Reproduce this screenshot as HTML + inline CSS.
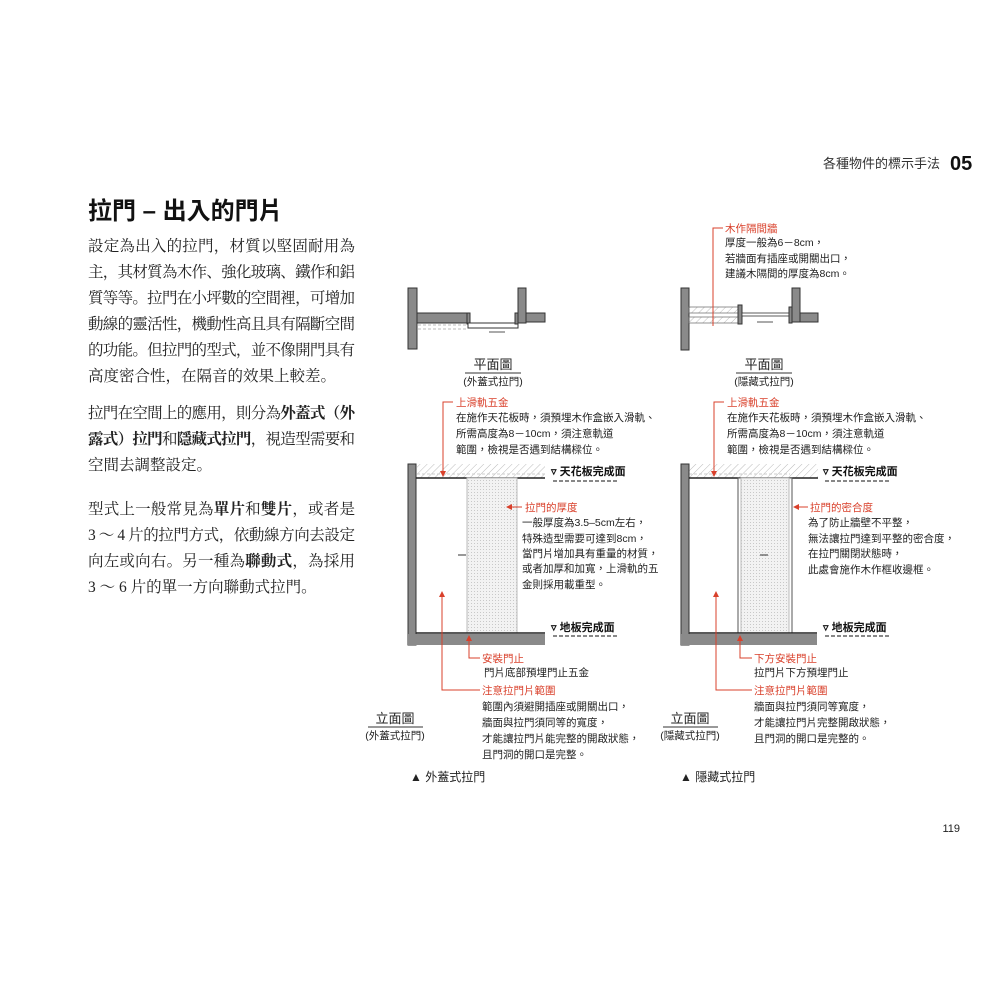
<!DOCTYPE html>
<html><head><meta charset="utf-8">
<style>
html,body{margin:0;padding:0;background:#fff;}
svg{display:block;}
text{font-family:"Liberation Sans","Noto Sans CJK TC",sans-serif;}
.serif text{font-family:"Liberation Serif","Noto Serif CJK SC",serif;font-size:15.5px;fill:#222;}
.s{font-size:10.5px;fill:#222;}
.r{font-size:10.5px;fill:#d9402b;}
.rl{stroke:#d9402b;stroke-width:1;fill:none;}
.w{fill:#8a8a8a;stroke:#333;stroke-width:1;}
</style></head><body>
<svg width="1000" height="1000" viewBox="0 0 1000 1000" xmlns="http://www.w3.org/2000/svg">
<defs>
<pattern id="hatch" width="5" height="5" patternUnits="userSpaceOnUse" patternTransform="rotate(45)">
<line x1="0" y1="0" x2="0" y2="5" stroke="#bbb" stroke-width="1"/></pattern>
<pattern id="dots" width="3" height="3" patternUnits="userSpaceOnUse">
<rect width="3" height="3" fill="#f2f2f2"/><rect width="1" height="1" fill="#c8c8c8"/></pattern>
<marker id="ar" markerWidth="6" markerHeight="6" refX="5" refY="3" orient="auto"><path d="M0,0 L6,3 L0,6z" fill="#d9402b"/></marker>
</defs>

<text x="940" y="168" text-anchor="end" font-size="13" fill="#333">各種物件的標示手法</text>
<text x="950" y="170" font-size="20" font-weight="bold" fill="#111">05</text>

<text x="88" y="219" font-size="24" font-weight="bold" fill="#111">拉門 – 出入的門片</text>

<g class="serif">
<text x="88" y="251" textLength="267" lengthAdjust="spacing">設定為出入的拉門，材質以堅固耐用為</text>
<text x="88" y="277" textLength="267" lengthAdjust="spacing">主，其材質為木作、強化玻璃、鐵作和鋁</text>
<text x="88" y="303" textLength="267" lengthAdjust="spacing">質等等。拉門在小坪數的空間裡，可增加</text>
<text x="88" y="329" textLength="267" lengthAdjust="spacing">動線的靈活性，機動性高且具有隔斷空間</text>
<text x="88" y="355" textLength="267" lengthAdjust="spacing">的功能。但拉門的型式，並不像開門具有</text>
<text x="88" y="381">高度密合性，在隔音的效果上較差。</text>
<text x="88" y="418" textLength="267" lengthAdjust="spacing">拉門在空間上的應用，則分為<tspan font-weight="bold">外蓋式（外</tspan></text>
<text x="88" y="444" textLength="267" lengthAdjust="spacing"><tspan font-weight="bold">露式）拉門</tspan>和<tspan font-weight="bold">隱藏式拉門</tspan>，視造型需要和</text>
<text x="88" y="470">空間去調整設定。</text>
<text x="88" y="514" textLength="267" lengthAdjust="spacing">型式上一般常見為<tspan font-weight="bold">單片</tspan>和<tspan font-weight="bold">雙片</tspan>，或者是</text>
<text x="88" y="540" textLength="267" lengthAdjust="spacing">3 ～ 4 片的拉門方式，依動線方向去設定</text>
<text x="88" y="566" textLength="267" lengthAdjust="spacing">向左或向右。另一種為<tspan font-weight="bold">聯動式</tspan>，為採用</text>
<text x="88" y="592">3 ～ 6 片的單一方向聯動式拉門。</text>
</g>

<rect class="w" x="408" y="288" width="9" height="61"/>
<rect class="w" x="417" y="313" width="51" height="10"/>
<rect class="w" x="467" y="313" width="3" height="11"/>
<rect x="468" y="323" width="50" height="5" fill="#fff" stroke="#333"/>
<rect class="w" x="515" y="313" width="3" height="11"/>
<rect class="w" x="518" y="288" width="8" height="35"/>
<rect class="w" x="526" y="313" width="19" height="9"/>
<line x1="418" y1="325" x2="468" y2="325" stroke="#bbb" stroke-dasharray="3,2"/>
<line x1="418" y1="329" x2="468" y2="329" stroke="#bbb" stroke-dasharray="3,2"/>
<line x1="489" y1="332" x2="505" y2="332" stroke="#555"/>
<text x="493" y="369" text-anchor="middle" font-size="13" fill="#222">平面圖</text>
<line x1="465" y1="373" x2="521" y2="373" stroke="#333"/>
<text x="493" y="385" text-anchor="middle" class="s">(外蓋式拉門)</text>

<rect x="417" y="464" width="128" height="14" fill="url(#hatch)"/>
<line x1="417" y1="474" x2="545" y2="474" stroke="#ccc" stroke-dasharray="3,2"/>
<rect class="w" x="408" y="464" width="8" height="181"/>
<line x1="416" y1="478" x2="545" y2="478" stroke="#222" stroke-width="1.5"/>
<rect x="467" y="478" width="50" height="155" fill="url(#dots)" stroke="#bbb"/>
<line x1="458" y1="555" x2="466" y2="555" stroke="#333"/>
<rect x="408" y="634" width="137" height="11" fill="#8a8a8a"/>
<line x1="416" y1="633" x2="545" y2="633" stroke="#222" stroke-width="1.5"/>

<path class="rl" d="M453,402 H443 V476" marker-end="url(#ar)"/>
<text x="456" y="406" class="r">上滑軌五金</text>
<text x="456" y="421" class="s">在施作天花板時，須預埋木作盒嵌入滑軌、</text>
<text x="456" y="437" class="s">所需高度為8－10cm，須注意軌道</text>
<text x="456" y="453" class="s">範圍，檢視是否遇到結構樑位。</text>

<text x="551" y="475" font-size="11" font-weight="bold" fill="#111">▿ 天花板完成面</text>
<line x1="553" y1="481" x2="618" y2="481" stroke="#111" stroke-dasharray="4,2"/>
<path class="rl" d="M522,507 H507" marker-end="url(#ar)"/>
<text x="525" y="511" class="r">拉門的厚度</text>
<text x="522" y="526" class="s">一般厚度為3.5–5cm左右，</text>
<text x="522" y="542" class="s">特殊造型需要可達到8cm，</text>
<text x="522" y="557" class="s">當門片增加具有重量的材質，</text>
<text x="522" y="572" class="s">或者加厚和加寬，上滑軌的五</text>
<text x="522" y="588" class="s">金則採用載重型。</text>
<text x="551" y="631" font-size="11" font-weight="bold" fill="#111">▿ 地板完成面</text>
<line x1="553" y1="636" x2="618" y2="636" stroke="#111" stroke-dasharray="4,2"/>

<path class="rl" d="M480,658 H469 V636" marker-end="url(#ar)"/>
<path class="rl" d="M480,690 H442 V592" marker-end="url(#ar)"/>
<text x="482" y="662" class="r">安裝門止</text>
<text x="484" y="676" class="s">門片底部預埋門止五金</text>
<text x="482" y="694" class="r">注意拉門片範圍</text>
<text x="482" y="710" class="s">範圍內須避開插座或開關出口，</text>
<text x="482" y="726" class="s">牆面與拉門須同等的寬度，</text>
<text x="482" y="742" class="s">才能讓拉門片能完整的開啟狀態，</text>
<text x="482" y="758" class="s">且門洞的開口是完整。</text>
<text x="395" y="723" text-anchor="middle" font-size="13" fill="#222">立面圖</text>
<line x1="368" y1="727" x2="423" y2="727" stroke="#333"/>
<text x="395" y="739" text-anchor="middle" class="s">(外蓋式拉門)</text>
<text x="410" y="781" font-size="12" fill="#222">▲ 外蓋式拉門</text>

<rect class="w" x="681" y="288" width="8" height="62"/>
<rect x="689" y="307" width="50" height="6" fill="url(#hatch)" stroke="#666" stroke-width="0.7"/>
<rect x="689" y="317" width="50" height="6" fill="url(#hatch)" stroke="#666" stroke-width="0.7"/>
<rect class="w" x="738" y="305" width="4" height="19"/>
<rect x="742" y="313" width="48" height="3" fill="#fff" stroke="#333" stroke-width="0.8"/>
<rect class="w" x="789" y="307" width="3" height="16"/>
<rect class="w" x="792" y="288" width="8" height="34"/>
<rect class="w" x="800" y="313" width="18" height="9"/>
<line x1="757" y1="322" x2="773" y2="322" stroke="#555"/>
<path class="rl" d="M723,228 H713 V326"/>
<text x="725" y="232" class="r">木作隔間牆</text>
<text x="725" y="246" class="s">厚度一般為6－8cm，</text>
<text x="725" y="262" class="s">若牆面有插座或開關出口，</text>
<text x="725" y="277" class="s">建議木隔間的厚度為8cm。</text>
<text x="764" y="369" text-anchor="middle" font-size="13" fill="#222">平面圖</text>
<line x1="736" y1="373" x2="792" y2="373" stroke="#333"/>
<text x="764" y="385" text-anchor="middle" class="s">(隱藏式拉門)</text>

<rect x="689" y="464" width="129" height="14" fill="url(#hatch)"/>
<line x1="689" y1="474" x2="790" y2="474" stroke="#ccc" stroke-dasharray="3,2"/>
<rect class="w" x="681" y="464" width="8" height="181"/>
<line x1="689" y1="478" x2="818" y2="478" stroke="#222" stroke-width="1.5"/>
<rect x="738" y="478" width="54" height="155" fill="#fff" stroke="#555"/>
<rect x="741" y="478" width="48" height="155" fill="url(#dots)" stroke="#bbb"/>
<line x1="760" y1="555" x2="768" y2="555" stroke="#333"/>
<rect x="681" y="634" width="136" height="11" fill="#8a8a8a"/>
<line x1="689" y1="633" x2="817" y2="633" stroke="#222" stroke-width="1.5"/>

<path class="rl" d="M724,402 H714 V476" marker-end="url(#ar)"/>
<text x="727" y="406" class="r">上滑軌五金</text>
<text x="727" y="421" class="s">在施作天花板時，須預埋木作盒嵌入滑軌、</text>
<text x="727" y="437" class="s">所需高度為8－10cm，須注意軌道</text>
<text x="727" y="453" class="s">範圍，檢視是否遇到結構樑位。</text>
<text x="823" y="475" font-size="11" font-weight="bold" fill="#111">▿ 天花板完成面</text>
<line x1="825" y1="481" x2="890" y2="481" stroke="#111" stroke-dasharray="4,2"/>
<path class="rl" d="M808,507 H794" marker-end="url(#ar)"/>
<text x="810" y="511" class="r">拉門的密合度</text>
<text x="808" y="526" class="s">為了防止牆壁不平整，</text>
<text x="808" y="542" class="s">無法讓拉門達到平整的密合度，</text>
<text x="808" y="557" class="s">在拉門關閉狀態時，</text>
<text x="808" y="573" class="s">此處會施作木作框收邊框。</text>
<text x="823" y="631" font-size="11" font-weight="bold" fill="#111">▿ 地板完成面</text>
<line x1="825" y1="636" x2="890" y2="636" stroke="#111" stroke-dasharray="4,2"/>

<path class="rl" d="M752,658 H740 V636" marker-end="url(#ar)"/>
<path class="rl" d="M752,690 H716 V592" marker-end="url(#ar)"/>
<text x="754" y="662" class="r">下方安裝門止</text>
<text x="754" y="676" class="s">拉門片下方預埋門止</text>
<text x="754" y="694" class="r">注意拉門片範圍</text>
<text x="754" y="710" class="s">牆面與拉門須同等寬度，</text>
<text x="754" y="726" class="s">才能讓拉門片完整開啟狀態，</text>
<text x="754" y="742" class="s">且門洞的開口是完整的。</text>
<text x="690" y="723" text-anchor="middle" font-size="13" fill="#222">立面圖</text>
<line x1="663" y1="727" x2="718" y2="727" stroke="#333"/>
<text x="690" y="739" text-anchor="middle" class="s">(隱藏式拉門)</text>
<text x="680" y="781" font-size="12" fill="#222">▲ 隱藏式拉門</text>

<text x="960" y="832" text-anchor="end" font-size="11" fill="#222">119</text>
</svg>
</body></html>
